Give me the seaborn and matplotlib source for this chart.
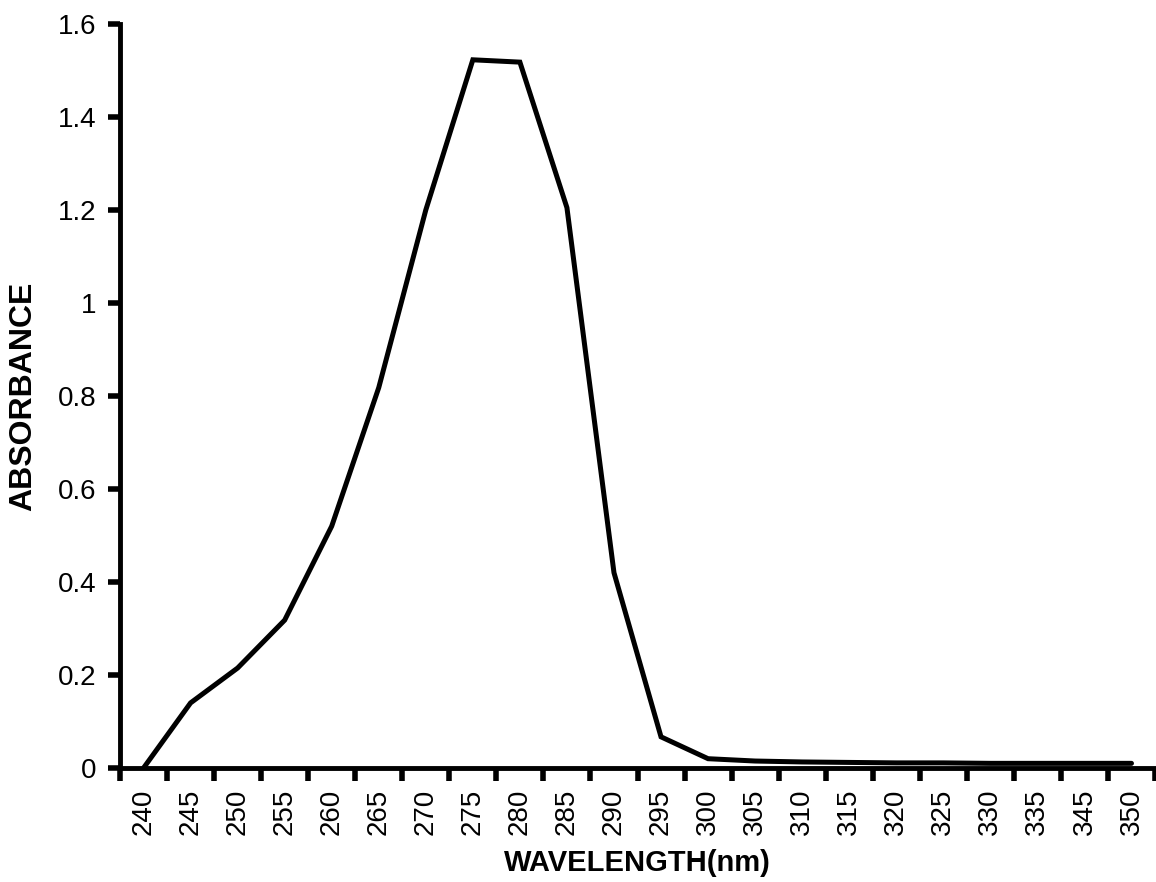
import matplotlib
matplotlib.use("Agg")
import matplotlib.pyplot as plt
import seaborn as sns
import pandas as pd
import numpy as np

wavelengths = ["240", "245", "250", "255", "260", "265", "270", "275", "280", "285",
               "290", "295", "300", "305", "310", "315", "320", "325", "330", "335",
               "345", "350"]
absorbance = [0.0, 0.14, 0.215, 0.318, 0.52, 0.818, 1.2, 1.523, 1.518, 1.205,
              0.42, 0.067, 0.02, 0.015, 0.013, 0.012, 0.011, 0.011, 0.01, 0.01,
              0.01, 0.01]
y_ticks = [0, 0.2, 0.4, 0.6, 0.8, 1.0, 1.2, 1.4, 1.6]
y_tick_labels = ["0", "0.2", "0.4", "0.6", "0.8", "1", "1.2", "1.4", "1.6"]

sns.set_style("white")
plt.rcParams['font.family'] = ['Liberation Sans', 'DejaVu Sans']
plt.rcParams['text.color'] = 'black'
plt.rcParams['axes.labelcolor'] = 'black'
plt.rcParams['xtick.color'] = 'black'
plt.rcParams['ytick.color'] = 'black'

df = pd.DataFrame({"pos": np.arange(len(wavelengths)), "abs": absorbance})

fig = plt.figure(figsize=(11.56, 8.82), dpi=100)
ax = fig.add_axes([120 / 1156, 114 / 882, 1035 / 1156, 744 / 882])

sns.lineplot(data=df, x="pos", y="abs", ax=ax, color="black", linewidth=3.6,
             solid_joinstyle="miter")

ax.set_xlim(-0.5, len(wavelengths) - 0.5)
ax.set_ylim(0, 1.6)

ax.set_xticks(np.arange(len(wavelengths)))
ax.set_xticklabels(wavelengths, rotation=90, fontsize=20)
ax.set_xticks(np.arange(len(wavelengths) + 1) - 0.5, minor=True)
ax.tick_params(axis="x", which="major", bottom=True, length=0, pad=15, labelcolor="black")
ax.tick_params(axis="x", which="minor", bottom=True, length=9, width=4, direction="out", color="black")

ax.set_yticks(y_ticks)
ax.set_yticklabels(y_tick_labels, fontsize=20)
ax.tick_params(axis="y", which="major", left=True, length=9, width=4, direction="out",
               color="black", pad=8, labelcolor="black")

for s in ["top", "right"]:
    ax.spines[s].set_visible(False)
for s in ["left", "bottom"]:
    ax.spines[s].set_linewidth(3.5)
    ax.spines[s].set_color("black")

ax.set_xlabel("WAVELENGTH(nm)", fontsize=21, fontweight="bold", labelpad=10, color="black")
ax.set_ylabel("ABSORBANCE", fontsize=23, fontweight="bold", labelpad=14, color="black")

fig.savefig("out.png", dpi=100)
